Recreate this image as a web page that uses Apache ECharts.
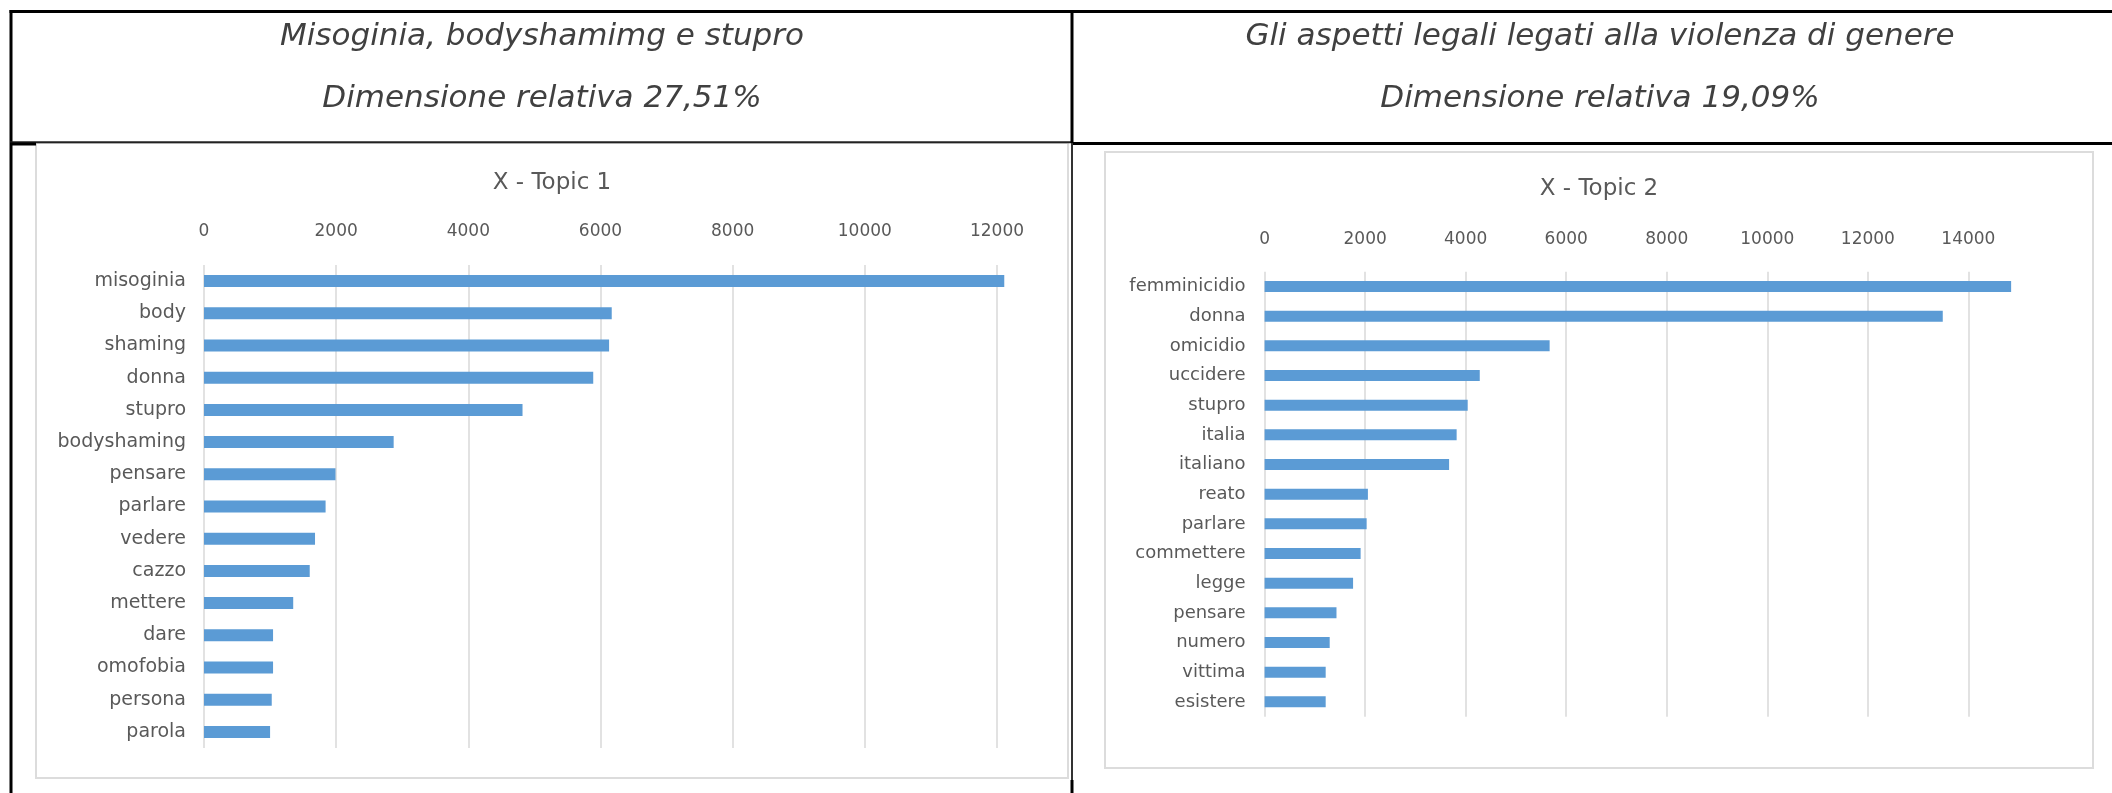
<!DOCTYPE html>
<html><head><meta charset="utf-8">
<script src="https://cdn.jsdelivr.net/npm/echarts@6/dist/echarts.min.js"></script>
<style>html,body{margin:0;padding:0;background:#fff}#c{width:2112px;height:793px}</style>
</head><body><div id="c"></div>
<script>
// ---- data ----
const headers1 = ['Misoginia, bodyshamimg e stupro', 'Dimensione relativa 27,51%'];
const headers2 = ['Gli aspetti legali legati alla violenza di genere', 'Dimensione relativa 19,09%'];
const chartTitle1 = 'X - Topic 1';
const chartTitle2 = 'X - Topic 2';

const topic1Categories = ['misoginia', 'body', 'shaming', 'donna', 'stupro', 'bodyshaming', 'pensare', 'parlare', 'vedere', 'cazzo', 'mettere', 'dare', 'omofobia', 'persona', 'parola'];
const topic1Values = [12110, 6170, 6130, 5890, 4820, 2870, 1990, 1840, 1680, 1600, 1350, 1045, 1045, 1025, 1000];
const topic1Ticks = [0, 2000, 4000, 6000, 8000, 10000, 12000];

const topic2Categories = ['femminicidio', 'donna', 'omicidio', 'uccidere', 'stupro', 'italia', 'italiano', 'reato', 'parlare', 'commettere', 'legge', 'pensare', 'numero', 'vittima', 'esistere'];
const topic2Values = [14850, 13490, 5670, 4280, 4040, 3820, 3670, 2055, 2030, 1910, 1760, 1430, 1295, 1215, 1215];
const topic2Ticks = [0, 2000, 4000, 6000, 8000, 10000, 12000, 14000];

// ---- styles ----
const FONT = 'DejaVu Sans';
const GRID_COLOR = '#d9d9d9';
const TEXT_COLOR = '#595959';
const HEAD_COLOR = '#404040';
const BAR_COLOR = '#5b9bd5';

const chart = echarts.init(document.getElementById('c'), null, { renderer: 'canvas' });

function valueAxis(gridIndex, ticks, max, margin, fontSize) {
  return {
    type: 'value', gridIndex: gridIndex, position: 'top',
    min: ticks[0], max: max, interval: ticks[1] - ticks[0],
    axisLine: { show: false }, axisTick: { show: false },
    axisLabel: {
      color: TEXT_COLOR, fontFamily: FONT, fontSize: fontSize, margin: margin,
      showMaxLabel: false,
      formatter: function (v) { return ticks.indexOf(v) >= 0 ? String(v) : ''; }
    },
    splitLine: { show: true, showMaxLine: false, lineStyle: { color: GRID_COLOR, width: 1.5 } }
  };
}
function catAxis(gridIndex, cats, margin, fontSize) {
  return {
    type: 'category', gridIndex: gridIndex, data: cats, inverse: true,
    axisLine: { show: false }, axisTick: { show: false },
    axisLabel: { color: TEXT_COLOR, fontFamily: FONT, fontSize: fontSize, margin: margin, interval: 0 },
    splitLine: { show: false }
  };
}
function headTitle(text, x, y) {
  return {
    text: text, left: x, top: y, padding: 0, textAlign: 'center', textVerticalAlign: 'middle',
    textStyle: { fontFamily: FONT, fontStyle: 'italic', fontWeight: 'normal', fontSize: 31, color: HEAD_COLOR }
  };
}
function chartTitle(text, x, y) {
  return {
    text: text, left: x, top: y, padding: 0, textAlign: 'center', textVerticalAlign: 'middle',
    textStyle: { fontFamily: FONT, fontWeight: 'normal', fontSize: 23, color: TEXT_COLOR }
  };
}
function line(x1, y1, x2, y2, w, c) {
  return { type: 'line', shape: { x1: x1, y1: y1, x2: x2, y2: y2 }, style: { stroke: c, lineWidth: w }, z: 10 };
}

const option = {
  backgroundColor: '#ffffff',
  animation: false,
  title: [
    headTitle(headers1[0], 542, 37),
    headTitle(headers1[1], 542, 99),
    headTitle(headers2[0], 1600, 37),
    headTitle(headers2[1], 1600, 99),
    chartTitle(chartTitle1, 552, 183),
    chartTitle(chartTitle2, 1599, 189)
  ],
  grid: [
    { left: 204, top: 265, width: 793 * 13000 / 12000, height: 483 },
    { left: 1264.6, top: 271.7, width: 703.8 * 15000 / 14000, height: 445 }
  ],
  xAxis: [
    valueAxis(0, topic1Ticks, 13000, 24.5, 17),
    valueAxis(1, topic2Ticks, 15000, 23.7, 17)
  ],
  yAxis: [
    catAxis(0, topic1Categories, 18, 19),
    catAxis(1, topic2Categories, 19, 18)
  ],
  series: [
    { type: 'bar', xAxisIndex: 0, yAxisIndex: 0, data: topic1Values, barWidth: 12, itemStyle: { color: BAR_COLOR } },
    { type: 'bar', xAxisIndex: 1, yAxisIndex: 1, data: topic2Values, barWidth: 11, itemStyle: { color: BAR_COLOR } }
  ],
  graphic: {
    elements: [
      // chart boxes
      { type: 'rect', shape: { x: 36, y: 143, width: 1032, height: 635 }, style: { fill: 'transparent', stroke: '#dcdcdc', lineWidth: 2 }, z: 0 },
      { type: 'rect', shape: { x: 1105, y: 152, width: 988, height: 616 }, style: { fill: 'transparent', stroke: '#dcdcdc', lineWidth: 2 }, z: 0 },
      // table lines
      line(9.5, 11.5, 2112, 11.5, 3, '#000'),
      line(11, 10, 11, 793, 3, '#000'),
      line(10, 142.3, 1072, 142.3, 2, '#222'),
      line(10, 144, 36, 144, 3, '#000'),
      line(1072, 143.5, 2112, 143.5, 3, '#000'),
      line(1072, 10, 1072, 143, 3, '#000'),
      line(1072, 143, 1072, 780, 2, '#333'),
      line(1072, 780, 1072, 793, 3, '#000')
    ]
  }
};
chart.setOption(option);
</script>
</body></html>
